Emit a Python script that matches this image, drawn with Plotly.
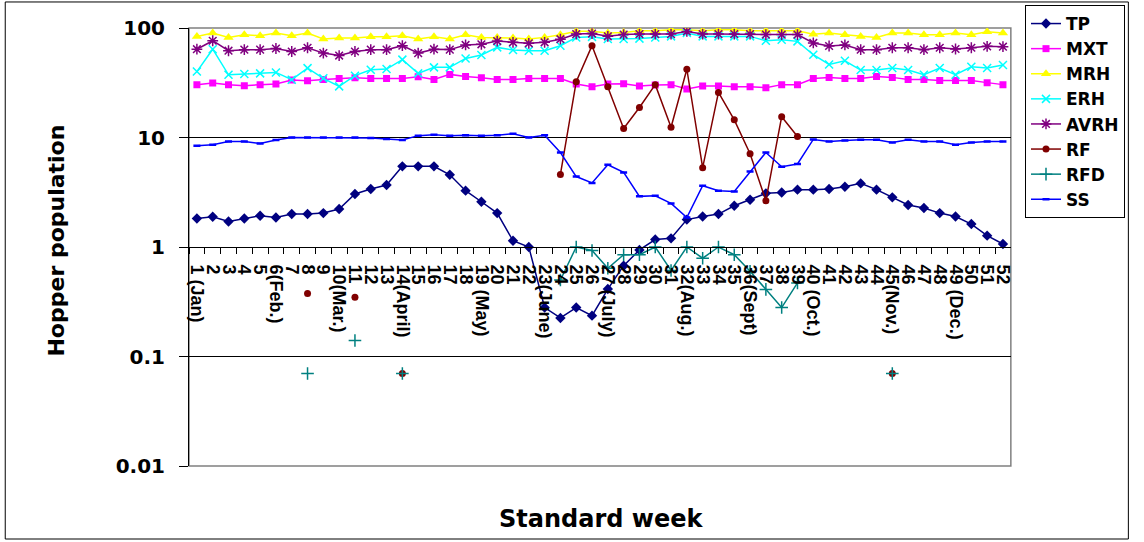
import plotly.graph_objects as go

weeks = ["1 (Jan)", "2", "3", "4", "5", "6(Feb.)", "7", "8", "9", "10(Mar.)", "11", "12", "13",
         "14(April)", "15", "16", "17", "18", "19 (May)", "20", "21", "22", "23(June)", "24", "25", "26",
         "27 (July)", "28", "29", "30", "31", "32(Aug.)", "33", "34", "35", "36(Sept)", "37", "38", "39",
         "40 (Oct.)", "41", "42", "43", "44", "45(Nov.)", "46", "47", "48", "49 (Dec.)", "50", "51", "52"]

TP = [1.82, 1.89, 1.71, 1.82, 1.93, 1.86, 2.0, 2.0, 2.04, 2.22, 3.05, 3.39, 3.68, 5.45, 5.45, 5.45,
      4.57, 3.27, 2.59, 2.04, 1.14, 1.0, 0.28, 0.225, 0.28, 0.236, 0.413, 0.675, 0.94, 1.17, 1.2,
      1.78, 1.9, 2.0, 2.38, 2.7, 3.09, 3.15, 3.34, 3.34, 3.39, 3.55, 3.81, 3.34, 2.84, 2.42, 2.27,
      2.04, 1.9, 1.62, 1.27, 1.065]
MXT = [30.4, 31.4, 30.4, 29.7, 30.4, 30.8, 33.5, 33.0, 33.9, 34.6, 35.2, 34.6, 34.6, 34.6, 35.9,
       33.9, 37.7, 36.1, 35.2, 33.9, 33.9, 34.6, 34.6, 34.6, 30.8, 29.1, 30.8, 31.0, 29.5, 30.2,
       30.4, 27.8, 29.5, 29.5, 29.0, 29.0, 28.5, 30.4, 30.4, 34.6, 35.4, 34.6, 34.6, 36.1, 35.4,
       33.9, 33.9, 33.2, 33.2, 33.2, 31.7, 30.4]
MRH = [83.8, 90, 82.1, 86.9, 85.1, 90, 85.1, 90, 79.4, 81.1, 81.1, 83.3, 83.3, 85.1, 79.4, 83.3,
       79.4, 86.9, 82.1, 82.1, 81.1, 79.4, 82.1, 86.9, 93.5, 93.5, 90, 91.2, 94.5, 94.5, 96.5, 96.5,
       94.5, 96.5, 96.5, 94.5, 94.5, 94.5, 94.5, 87.5, 90, 86.9, 83.8, 82.1, 90, 90, 86.9, 86.9,
       90, 86.9, 92.5, 90]
ERH = [40, 64, 37.4, 38, 38.5, 39.3, 33.7, 43, 34.7, 29.3, 36.7, 41.6, 42.2, 51.4, 38.5, 43.7,
       43.7, 52.7, 56.7, 66.5, 63, 62, 62, 68.9, 82, 83, 79.4, 79.4, 80, 82, 83.8, 90, 83.8, 83.8,
       83.8, 83.8, 76.5, 78.2, 75.5, 57, 46.5, 50.2, 41.3, 41.3, 43.1, 41.3, 37.4, 43.1, 37.4,
       44.3, 43.1, 45.9]
AVRH = [64, 76.5, 62, 63.4, 63.4, 65, 61, 66, 59, 56, 61, 63.4, 63.4, 69, 59, 64, 63.5, 70, 71,
        76, 74, 72.5, 74, 79, 88, 89, 84, 87, 88, 88, 88, 93, 88, 88, 88, 88, 87, 87, 87, 73, 68.5,
        70, 63.4, 63.4, 66, 66, 63.4, 66, 64.3, 66, 68, 67.5]
RF = [None, None, None, None, None, None, None, 0.377, None, None, 0.347, None, None, 0.07,
      None, None, None, None, None, None, None, None, None, 4.6, 32.3, 69, 29, 12.1, 18.8, 30.4,
      12.4, 42, 5.3, 25.8, 14.5, 7.1, 2.65, 15.5, 10.2, None, None, None, None, None, 0.07,
      None, None, None, None, None, None, None]
RFD = [None, None, None, None, None, None, None, 0.07, None, None, 0.14, None, None, 0.07,
       None, None, None, None, None, None, None, None, None, 0.5, 1.0, 0.93, 0.64, 0.85, 0.85,
       1.0, 0.61, 1.0, 0.79, 1.0, 0.85, 0.6, 0.41, 0.28, 0.47, None, None, None, None, None,
       0.07, None, None, None, None, None, None, None]
SS = [8.4, 8.6, 9.2, 9.2, 8.8, 9.5, 10, 10, 10, 10, 10, 9.9, 9.7, 9.5, 10.4, 10.6, 10.4, 10.5,
      10.4, 10.5, 10.8, 10.0, 10.5, 7.3, 4.4, 3.85, 5.64, 4.8, 2.9, 2.94, 2.5, 1.86, 3.63, 3.27,
      3.22, 4.9, 7.3, 5.41, 5.73, 9.6, 9.2, 9.37, 9.55, 9.55, 9.0, 9.55, 9.2, 9.2, 8.6, 9.0,
      9.2, 9.2]

y_tickvals = [0.01, 0.1, 1, 10, 100]
y_ticktext = ["0.01", "0.1", "1", "10", "100"]

series = [
    ("TP", TP, "#000080", "diamond", 8, 0),
    ("MXT", MXT, "#FF00FF", "square", 7, 0),
    ("MRH", MRH, "#FFFF00", "triangle-up", 9, 0),
    ("ERH", ERH, "#00FFFF", "x-thin-open", 8, 1.5),
    ("AVRH", AVRH, "#800080", "asterisk-open", 9, 1.5),
    ("RF", RF, "#800000", "circle", 7, 0),
    ("RFD", RFD, "#008080", "cross-thin-open", 9, 1.5),
    ("SS", SS, "#0000FF", "line-ew-open", 5, 2.5),
]

fig = go.Figure()
for name, vals, color, sym, size, lw in series:
    mk = dict(symbol=sym, size=size, color=color)
    if lw:
        mk["line"] = dict(color=color, width=lw)
    fig.add_trace(go.Scatter(
        x=weeks, y=vals, name=name, mode="lines+markers",
        line=dict(color=color, width=1.5), marker=mk,
        connectgaps=False,
    ))

fig.update_layout(
    width=1144, height=542,
    margin=dict(l=189, r=123, t=28, b=76),
    paper_bgcolor="white", plot_bgcolor="white",
    showlegend=True,
    legend=dict(
        xref="container", yref="container",
        x=1025 / 1144, y=1 - 5 / 542, xanchor="left", yanchor="top",
        bordercolor="#000000", borderwidth=1, bgcolor="white",
        font=dict(family="DejaVu Sans", size=17, color="black", weight="bold"),
        tracegroupgap=0,
    ),
    xaxis=dict(
        type="category", range=[-0.5, 51.5],
        anchor="free", position=0.5,
        tickmode="linear", tick0=0, dtick=1,
        showline=True, linecolor="black", linewidth=1,
        ticks="outside", tickson="boundaries", ticklen=6, tickcolor="black",
        tickangle=90, ticklabelstandoff=13,
        tickfont=dict(family="Liberation Sans, Arial", size=18, color="black", weight="bold"),
        showgrid=False, zeroline=False,
    ),
    yaxis=dict(
        type="log", range=[-2, 2], domain=[0, 1],
        tickvals=y_tickvals, ticktext=y_ticktext,
        showline=True, linecolor="black", linewidth=1,
        ticks="outside", ticklen=9, tickcolor="black", ticklabelstandoff=10,
        tickfont=dict(family="DejaVu Sans", size=20, color="black", weight="bold"),
        showgrid=True, gridcolor="#000000", gridwidth=1,
        zeroline=False,
    ),
    shapes=[
        dict(type="rect", xref="paper", yref="paper", x0=0, x1=1, y0=0, y1=1,
             line=dict(color="#808080", width=1.5), fillcolor="rgba(0,0,0,0)", layer="below"),
        dict(type="rect", xref="paper", yref="paper", x0=-0.2236, x1=1.1430, y0=-0.1667, y1=1.0594,
             line=dict(color="#000000", width=1), fillcolor="rgba(0,0,0,0)"),
    ],
    annotations=[
        dict(text="Hopper population", xref="paper", yref="paper", x=-0.161, y=0.514,
             textangle=-90, showarrow=False, xanchor="center", yanchor="middle",
             font=dict(family="DejaVu Sans", size=22, color="black", weight="bold")),
        dict(text="Standard week", xref="paper", yref="paper", x=0.502, y=-0.121,
             showarrow=False, xanchor="center", yanchor="middle",
             font=dict(family="DejaVu Sans", size=24, color="black", weight="bold")),
    ],
)

fig.write_html("out.html", config={"displayModeBar": False},
               post_script="document.body.style.margin='0px';")
